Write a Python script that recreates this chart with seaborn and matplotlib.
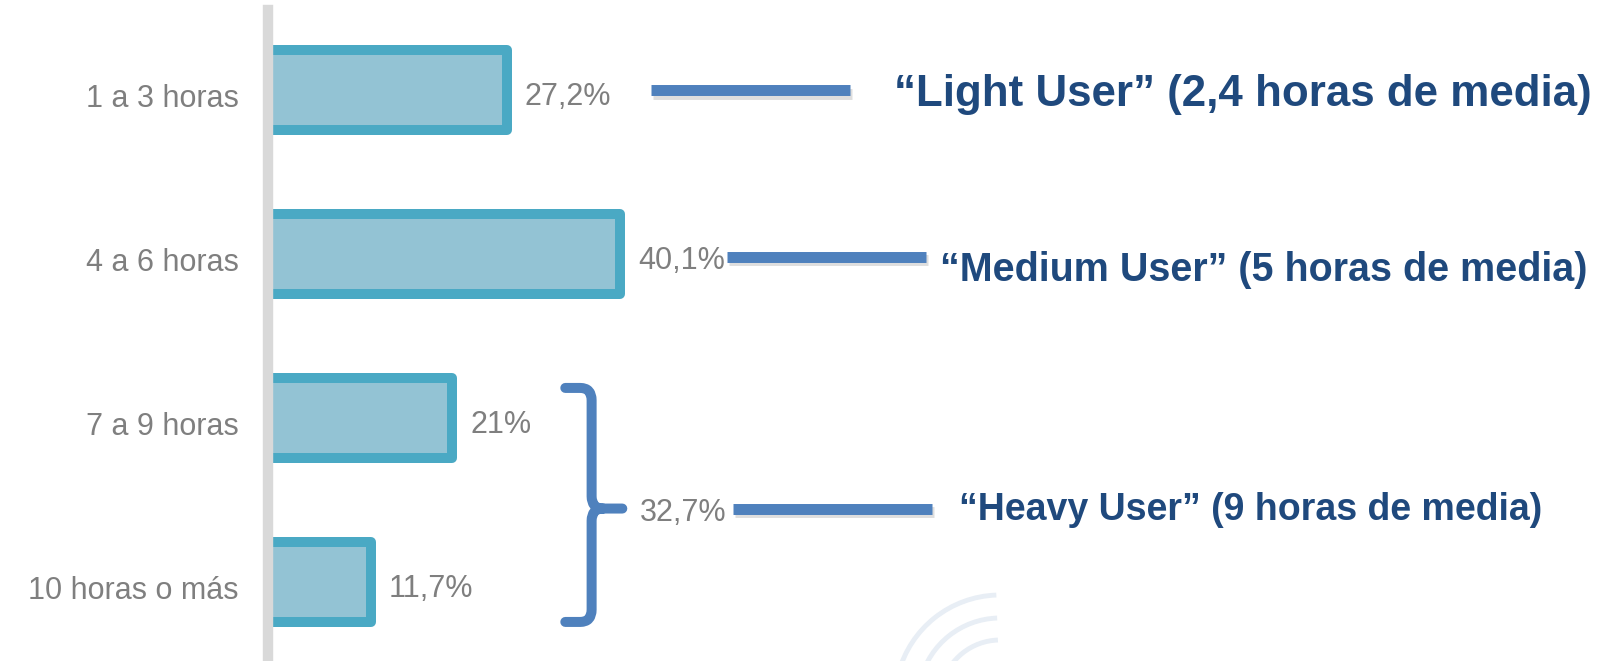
import os
import numpy as np
import matplotlib
matplotlib.use("Agg")
import matplotlib.pyplot as plt
from matplotlib import font_manager
from matplotlib.font_manager import FontProperties
from matplotlib.path import Path
from matplotlib.patches import PathPatch, Arc
from matplotlib.transforms import ScaledTranslation
import matplotlib.patheffects as pe
import seaborn as sns
import pandas as pd

# ---- data ----
categories = ["1 a 3 horas", "4 a 6 horas", "7 a 9 horas", "10 horas o más"]
values = [27.2, 40.1, 21.0, 11.7]
value_labels = ["27,2%", "40,1%", "21%", "11,7%"]
group_total_label = "32,7%"
segment_labels = ["\u201cLight User\u201d (2,4 horas de media)",
                  "\u201cMedium User\u201d (5 horas de media)",
                  "\u201cHeavy User\u201d (9 horas de media)"]


def find_font(basename, family, weight="normal", stretch="normal"):
    for f in font_manager.fontManager.ttflist:
        if os.path.basename(f.fname).lower() == basename.lower():
            return FontProperties(fname=f.fname)
    return FontProperties(family=[family, "DejaVu Sans"], weight=weight, stretch=stretch)


fp_reg = find_font("LiberationSans-Regular.ttf", "Liberation Sans")
fp_narrow_bold = find_font("LiberationSansNarrow-Bold.ttf", "Liberation Sans", "bold", "condensed")

sns.set_theme(style="white")
plt.rcParams['font.family'] = ['Liberation Sans', 'DejaVu Sans']

W, H = 1605, 661
X0, PXU = 268.0, 8.77        # axis position (px) and px per percent
Y0, PXC = 89.6, 164.1        # first category center (px) and spacing (px)

fig = plt.figure(figsize=(W / 100, H / 100), dpi=100)
ax = fig.add_axes([X0 / W, 0, 1 - X0 / W, (H - 10) / H])

df = pd.DataFrame({"cat": categories, "val": values})
sns.barplot(data=df, x="val", y="cat", orient="h", width=0.487,
            color="#93C3D4", saturation=1, edgecolor="#4AA9C4",
            linewidth=7.2, ax=ax, zorder=2)
for p in ax.patches:
    p.set_joinstyle("round")

ax.set_xlim(0, (W - X0) / PXU)
ax.set_ylim((H - Y0) / PXC, (10 - Y0) / PXC)
ax.set_xlabel("")
ax.set_ylabel("")
ax.set_xticks([])

for s in ["top", "right", "bottom"]:
    ax.spines[s].set_visible(False)
ax.spines["left"].set_color("#D9D9D9")
ax.spines["left"].set_linewidth(7.5)
ax.spines["left"].set_zorder(5)

grey = "#7F7F7F"
blue = "#4F81BD"
dark = "#1F497D"

ax.set_yticks(range(len(categories)))
ax.set_yticklabels(categories)
ax.tick_params(axis="y", length=0, pad=21, labelcolor=grey)
shift = ScaledTranslation(0, -4 / 72, fig.dpi_scale_trans)
for t in ax.get_yticklabels():
    t.set_fontproperties(fp_reg)
    t.set_fontsize(22)
    t.set_transform(t.get_transform() + shift)

# value labels
for i, (v, lab) in enumerate(zip(values, value_labels)):
    ax.text(v + 2.1, i + 0.045, lab, va="center", ha="left",
            fontproperties=fp_reg, fontsize=22, color=grey)

# bracket around heavy users (categories 2 and 3)
xv, xa, xt = 36.9, 33.9, 40.4
yt, yb, ym = 2 - 0.182, 3 + 0.244, 2.553
rx, ry = 1.3, 0.075
verts = [(xa, yt), (xv - rx, yt), (xv, yt), (xv, yt + ry),
         (xv, ym - ry), (xv, ym), (xv + rx, ym), (xt, ym),
         (xv + rx, ym), (xv, ym), (xv, ym + ry),
         (xv, yb - ry), (xv, yb), (xv - rx, yb), (xa, yb)]
codes = [Path.MOVETO, Path.LINETO, Path.CURVE3, Path.CURVE3,
         Path.LINETO, Path.CURVE3, Path.CURVE3, Path.LINETO,
         Path.MOVETO, Path.CURVE3, Path.CURVE3,
         Path.LINETO, Path.CURVE3, Path.CURVE3, Path.LINETO]
ax.add_patch(PathPatch(Path(verts, codes), fill=False, edgecolor=blue,
                       lw=7.2, capstyle="round", joinstyle="round", zorder=4))
ax.text(42.4, ym + 0.03, group_total_label, va="center", ha="left",
        fontproperties=fp_reg, fontsize=22, color=grey)

# leader lines and segment labels
line_y = [0.005, 1.02, ym]
line_x = [(43.7, 66.4), (52.3, 75.0), (53.0, 75.7)]
text_x = [71.4, 76.6, 78.8]
text_y = [0.03, 1.1, ym + 0.01]
target_w = [698, 649, 585]
shadow = [pe.SimpleLineShadow(offset=(1.5, -2.5), shadow_color="#BFBFBF", alpha=0.5), pe.Normal()]
fig.canvas.draw()
renderer = fig.canvas.get_renderer()
for y, (x0, x1), tx, ty, lab, tw in zip(line_y, line_x, text_x, text_y, segment_labels, target_w):
    ax.plot([x0, x1], [y, y], color=blue, lw=7.9, solid_capstyle="butt", zorder=4,
            path_effects=shadow)
    t = ax.text(tx, ty, lab, va="center", ha="left", fontproperties=fp_narrow_bold,
                fontsize=30, color=dark)
    w = t.get_window_extent(renderer).width
    t.set_fontsize(30 * tw / w)

# faint watermark arcs at the bottom
cx, cy = (1000 - X0) / PXU, (700 - Y0) / PXC


def arc_param(phi_deg, w, h):
    # convert a desired ellipse-parameter angle to matplotlib's Arc theta convention
    p = np.deg2rad(phi_deg)
    return float(np.rad2deg(np.arctan2(np.sin(p) / w, np.cos(p) / h))) % 360


for r in [105, 82, 60]:
    aw, ah = 2 * r / PXU, 2 * r / PXC
    ax.add_patch(Arc((cx, cy), aw, ah, theta1=arc_param(195, aw, ah),
                     theta2=arc_param(268, aw, ah),
                     color="#E8EEF5", lw=3.5, zorder=1))

fig.savefig("out.png", dpi=100)
